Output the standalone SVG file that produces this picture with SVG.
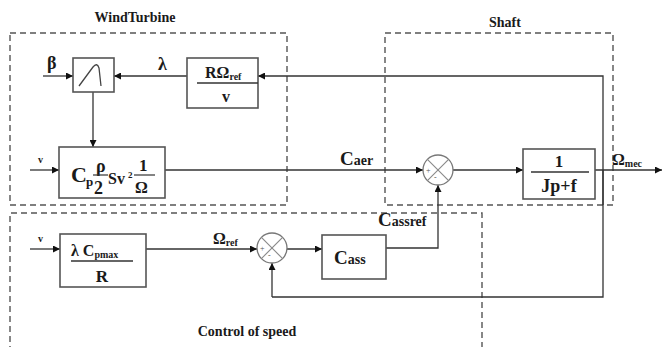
<svg xmlns="http://www.w3.org/2000/svg" width="662" height="347" viewBox="0 0 662 347">
<defs>
<marker id="ah" viewBox="0 0 10 10" refX="10" refY="5" markerWidth="7" markerHeight="7" orient="auto" markerUnits="userSpaceOnUse"><path d="M0,0 L10,5 L0,10 z" fill="#111"/></marker>
</defs>
<style>
text, tspan{font-family:"Liberation Serif","Times New Roman","DejaVu Serif",serif !important;font-weight:bold;fill:#1a1a1a}
.grp{fill:none;stroke:#555;stroke-width:1.4;stroke-dasharray:6,4}
.blk{fill:#fff;stroke:#555;stroke-width:1.6}
.ln{fill:none;stroke:#333;stroke-width:1.3}
.ar{fill:none;stroke:#333;stroke-width:1.3;marker-end:url(#ah)}
.sum{fill:#fff;stroke:#777;stroke-width:1.3}
.x{stroke:#888;stroke-width:1.1}
.sg{font-size:8px;font-weight:normal;fill:#555}
</style>
<rect width="662" height="347" fill="#fff"/>

<g id="groups">
<rect class="grp" x="10" y="33" width="277" height="172"/>
<text x="135" y="22" font-size="14" text-anchor="middle">WindTurbine</text>
<rect class="grp" x="385" y="33" width="228" height="172"/>
<text x="505" y="27" font-size="14" text-anchor="middle">Shaft</text>
<path class="grp" d="M10,352 L10,213 L482,213 L482,352"/>
<text x="247" y="336" font-size="14" text-anchor="middle">Control of speed</text>
</g>

<g id="connectors">
<path class="ar" d="M43,76 L73,76"/>
<path class="ar" d="M187,76 L114,76"/>
<path class="ar" d="M603,205 L603,76 L258,76"/>
<path class="ar" d="M93,92 L93,147"/>
<path class="ar" d="M30,170 L59,170"/>
<path class="ar" d="M165,170 L423,170"/>
<path class="ar" d="M453,170 L523,170"/>
<path class="ar" d="M595,170 L662,170"/>
<path class="ln" d="M603,170 L603,297 L272,297"/>
<path class="ar" d="M272,297 L272,263"/>
<path class="ar" d="M30,249 L60,249"/>
<path class="ar" d="M146,249 L257,249"/>
<path class="ar" d="M287,249 L322,249"/>
<path class="ar" d="M386,248 L438,248 L438,185"/>
</g>

<g id="sat">
<rect class="blk" x="73" y="58" width="41" height="34"/>
<path d="M79,86 L93,67 Q97,62 99,68 L101,86" fill="none" stroke="#444" stroke-width="1.3"/>
</g>

<g id="lambda-block">
<rect class="blk" x="187" y="58" width="71" height="50"/>
<line x1="197" y1="83" x2="258" y2="83" stroke="#333" stroke-width="1.3"/>
<text x="205" y="78" font-size="16">RΩ<tspan font-size="10" dy="2">ref</tspan></text>
<text x="226" y="102" font-size="16" text-anchor="middle">v</text>
</g>

<g id="cp-block">
<rect class="blk" x="59" y="147" width="106" height="51"/>
<text x="71" y="182" font-size="22">C</text>
<text x="86" y="186" font-size="13">p</text>
<text x="96" y="172" font-size="18">ρ</text>
<line x1="93" y1="175" x2="108" y2="175" stroke="#333" stroke-width="1.2"/>
<text x="94" y="194" font-size="18">2</text>
<text x="108" y="184" font-size="16">Sv</text>
<text x="128" y="178" font-size="9">2</text>
<text x="139" y="171" font-size="17">1</text>
<line x1="134" y1="175" x2="155" y2="175" stroke="#333" stroke-width="1.2"/>
<text x="135" y="193" font-size="16">Ω</text>
</g>

<g id="sum1">
<circle class="sum" cx="438" cy="170" r="15"/>
<line class="x" x1="427.4" y1="159.4" x2="448.6" y2="180.6"/>
<line class="x" x1="448.6" y1="159.4" x2="427.4" y2="180.6"/>
<text class="sg" x="426" y="173">+</text>
<text class="sg" x="434" y="180">-</text>
</g>

<g id="jp-block">
<rect class="blk" x="523" y="149" width="72" height="50"/>
<line x1="531" y1="172" x2="589" y2="172" stroke="#333" stroke-width="1.3"/>
<text x="559" y="167" font-size="17" text-anchor="middle">1</text>
<text x="559" y="192" font-size="18" text-anchor="middle">Jp+f</text>
</g>

<g id="cpmax-block">
<rect class="blk" x="60" y="234" width="86" height="53"/>
<line x1="71" y1="261" x2="133" y2="261" stroke="#333" stroke-width="1.3"/>
<text x="71" y="256" font-size="16">λ C<tspan font-size="10" dy="2">pmax</tspan></text>
<text x="102" y="282" font-size="17" text-anchor="middle">R</text>
</g>

<g id="sum2">
<circle class="sum" cx="272" cy="248" r="15"/>
<line class="x" x1="261.4" y1="237.4" x2="282.6" y2="258.6"/>
<line class="x" x1="282.6" y1="237.4" x2="261.4" y2="258.6"/>
<text class="sg" x="260" y="251">+</text>
<text class="sg" x="268" y="258">-</text>
</g>

<g id="cass-block">
<rect class="blk" x="322" y="235" width="64" height="44"/>
<text x="334" y="264" font-size="19">C<tspan font-size="14">ass</tspan></text>
</g>

<g id="labels">
<text x="47" y="69" font-size="18">β</text>
<text x="158" y="70" font-size="18">λ</text>
<text x="38" y="163" font-size="10" font-weight="normal">v</text>
<text x="38" y="242" font-size="10" font-weight="normal">v</text>
<text x="340" y="165" font-size="19">C<tspan font-size="14">aer</tspan></text>
<text x="378" y="226" font-size="19">C<tspan font-size="14">assref</tspan></text>
<text x="213" y="244" font-size="16">Ω<tspan font-size="10" dy="2">ref</tspan></text>
<text x="612" y="165" font-size="16">Ω<tspan font-size="10" dy="2">mec</tspan></text>
</g>
</svg>
